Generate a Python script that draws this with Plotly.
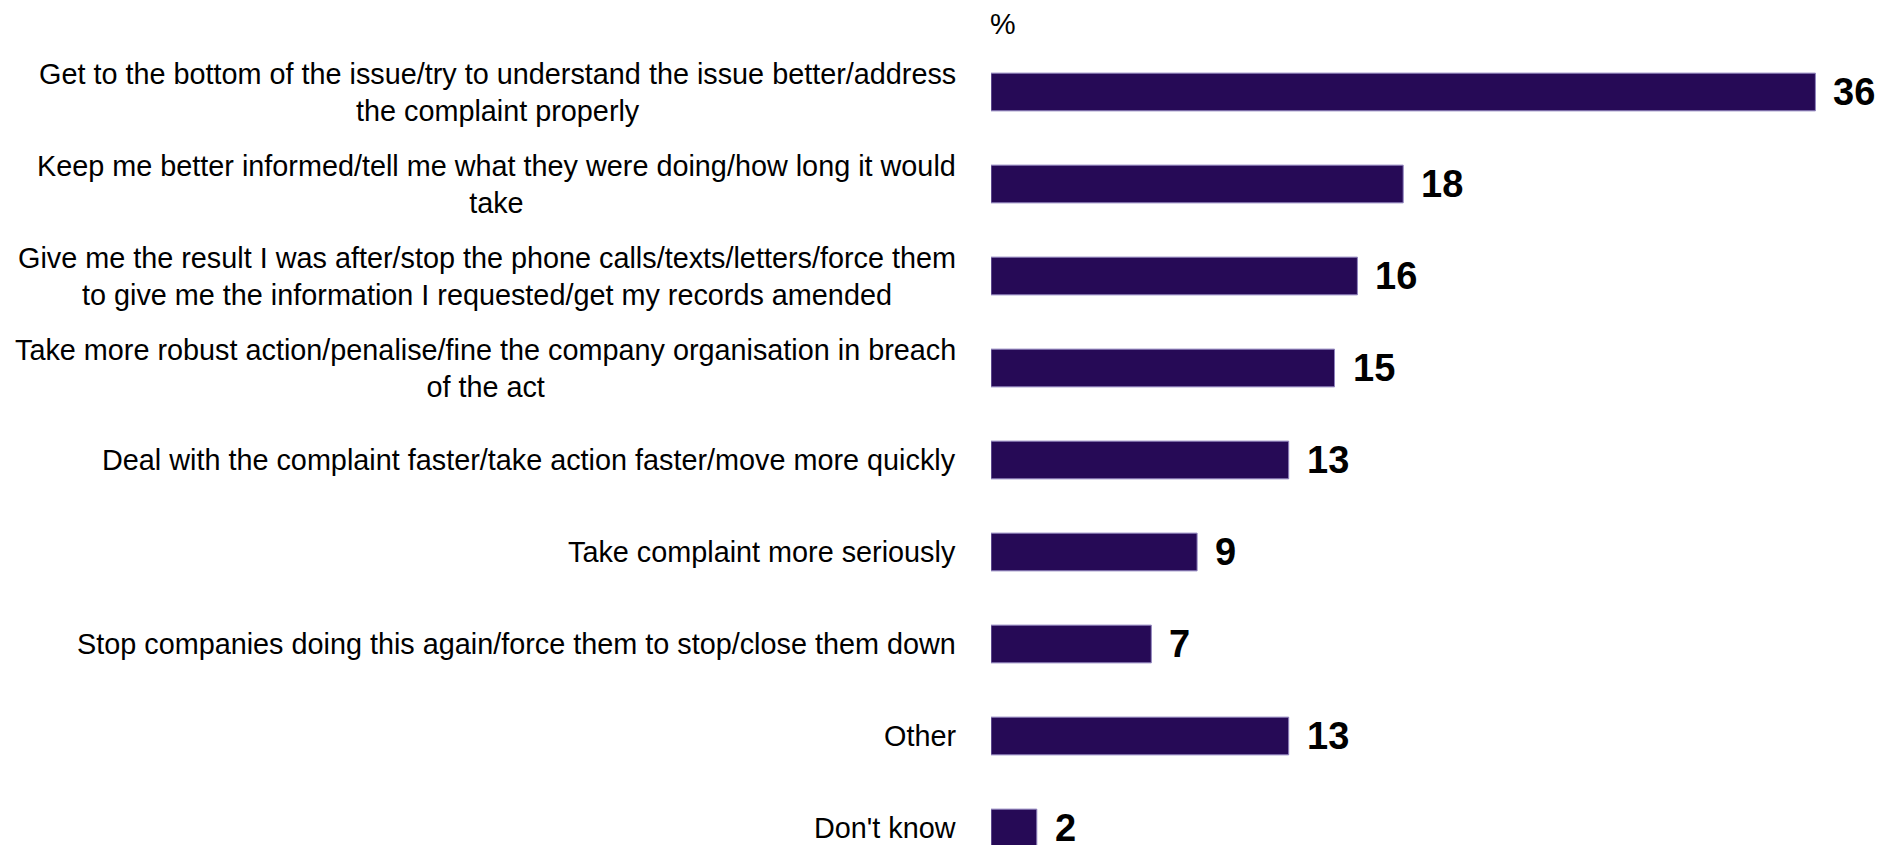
import plotly.graph_objects as go

categories = [
    "Get to the bottom of the issue/try to understand the issue better/address<br>the complaint properly",
    "Keep me better informed/tell me what they were doing/how long it would<br>take",
    "Give me the result I was after/stop the phone calls/texts/letters/force them<br>to give me the information I requested/get my records amended",
    "Take more robust action/penalise/fine the company organisation in breach<br>of the act",
    "Deal with the complaint faster/take action faster/move more quickly",
    "Take complaint more seriously",
    "Stop companies doing this again/force them to stop/close them down",
    "Other",
    "Don't know",
]
values = [36, 18, 16, 15, 13, 9, 7, 13, 2]
unit_label = "%"

FONT = "Arial, 'Liberation Sans', sans-serif"
BAR_COLOR = "#260A56"

fig = go.Figure()
fig.add_trace(go.Bar(
    x=values,
    y=categories,
    orientation="h",
    width=0.41,
    marker=dict(color=BAR_COLOR, line=dict(color="#8f82bd", width=1)),
    hoverinfo="skip",
))

annotations = []
for cat, v in zip(categories, values):
    annotations.append(dict(
        x=0, xref="paper", y=cat, yref="y",
        text=cat, showarrow=False, xanchor="right", yanchor="middle",
        align="center", xshift=-33,
        font=dict(family=FONT, size=28.8, color="#000000"),
    ))
    annotations.append(dict(
        x=v, xref="x", y=cat, yref="y",
        text="<b>%d</b>" % v, showarrow=False, xanchor="left", yanchor="middle",
        xshift=16,
        font=dict(family=FONT, size=38, color="#000000"),
    ))
annotations.append(dict(
    x=0, xref="paper", y=1, yref="paper", text=unit_label, showarrow=False,
    xanchor="left", yanchor="middle", yshift=22, xshift=-3,
    font=dict(family=FONT, size=28.8, color="#000000"),
))

fig.update_layout(
    width=1897, height=845,
    margin=dict(l=991, r=0, t=46, b=0, pad=0),
    paper_bgcolor="white", plot_bgcolor="white",
    showlegend=False,
    annotations=annotations,
    xaxis=dict(range=[0, 906 / 22.9], visible=False, fixedrange=True),
    yaxis=dict(range=[-0.5 + 799 / 92, -0.5], showticklabels=False,
               showgrid=False, zeroline=False, showline=False, ticks="",
               fixedrange=True),
)

fig.write_html(
    "out.html",
    config={"displayModeBar": False},
    post_script="document.body.style.margin='0';document.body.style.overflow='hidden';",
)
